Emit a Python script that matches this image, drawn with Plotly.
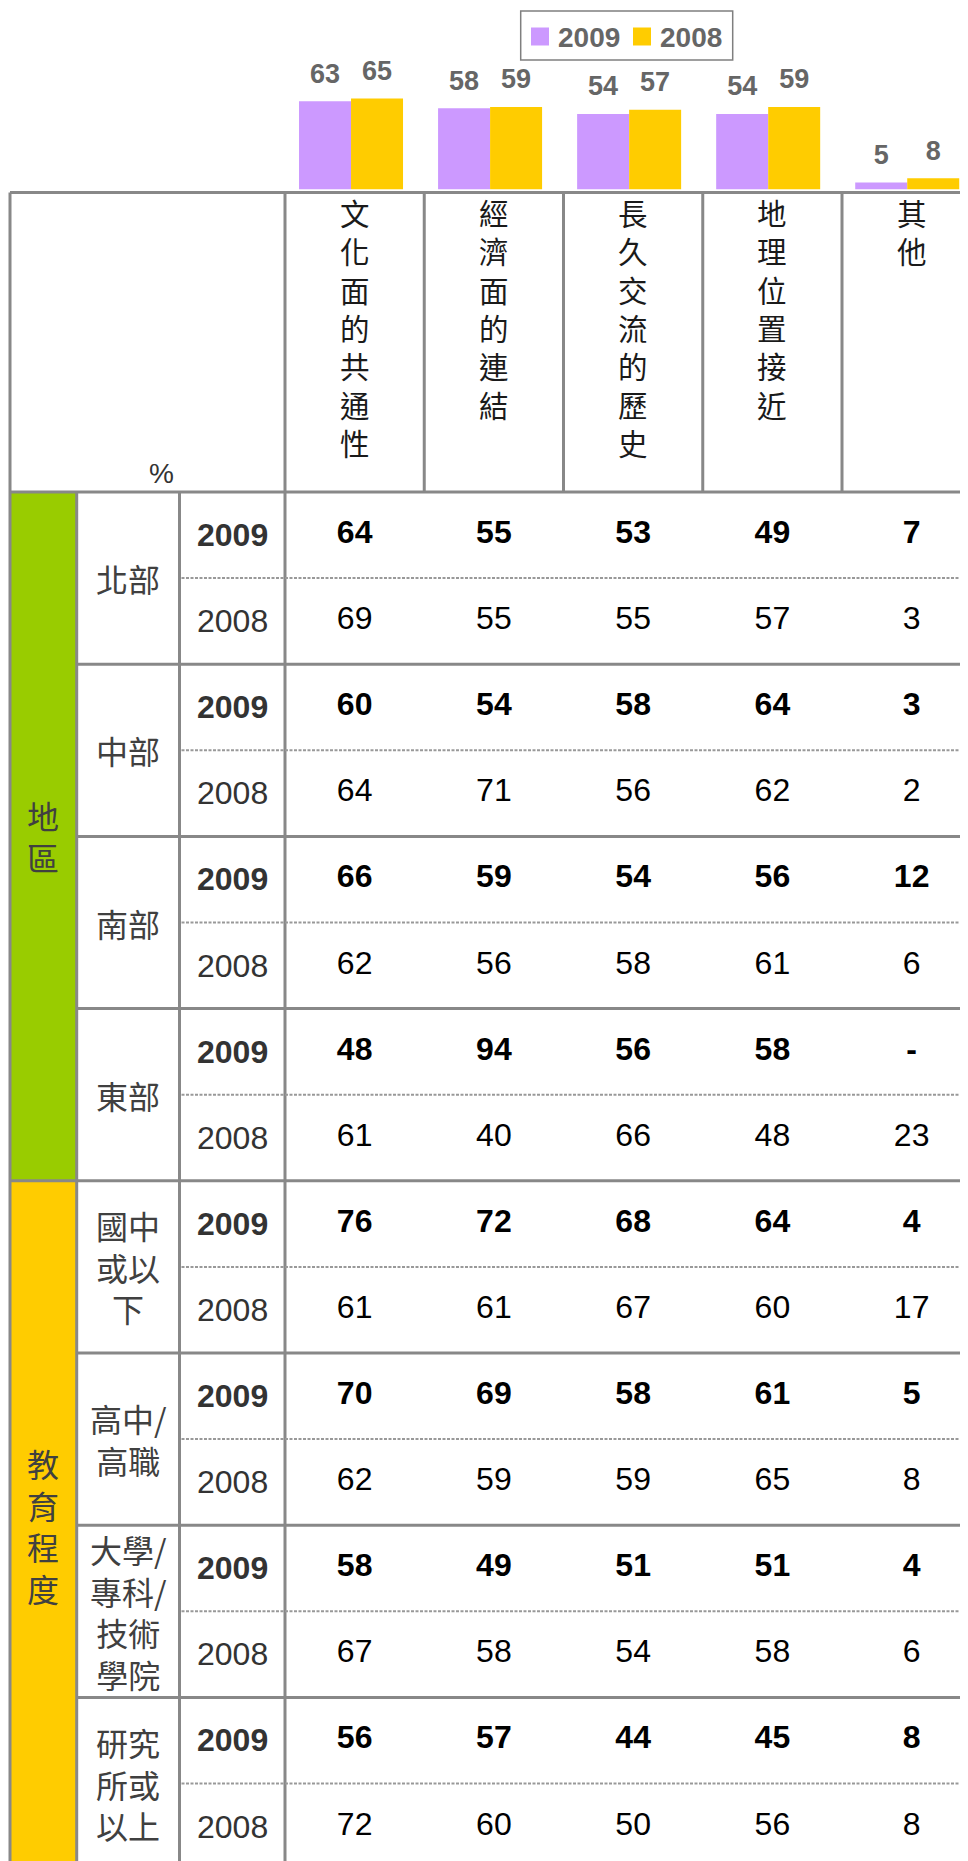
import plotly.graph_objects as go

# chart data
categories = ['文化面的共通性', '經濟面的連結', '長久交流的歷史', '地理位置接近', '其他']
series_names = ['2009', '2008']
total_2009 = [63, 58, 54, 54, 5]
total_2008 = [65, 59, 57, 59, 8]

group_labels = ['地區', '教育程度']
group_sizes = [4, 4]
row_labels = ['北部', '中部', '南部', '東部',
              '國中<br>或以<br>下', '高中/<br>高職', '大學/<br>專科/<br>技術<br>學院', '研究<br>所或<br>以上']
values_2009 = [
    [64, 55, 53, 49, 7],
    [60, 54, 58, 64, 3],
    [66, 59, 54, 56, 12],
    [48, 94, 56, 58, None],
    [76, 72, 68, 64, 4],
    [70, 69, 58, 61, 5],
    [58, 49, 51, 51, 4],
    [56, 57, 44, 45, 8],
]
values_2008 = [
    [69, 55, 55, 57, 3],
    [64, 71, 56, 62, 2],
    [62, 56, 58, 61, 6],
    [61, 40, 66, 48, 23],
    [61, 61, 67, 60, 17],
    [62, 59, 59, 65, 8],
    [67, 58, 54, 58, 6],
    [72, 60, 50, 56, 8],
]

colors = ['#CC99FF', '#FFCC00']
band_colors = ['#99CC00', '#FFCC00']

# geometry in page pixels (the figure div sits 8px in from the page edge)
W, H = 968, 1861
OFF = 8
table_top = 192.5
head_bottom = 492
group_h = 172.2
col_x0 = 285
col_w = 139.25
band_l, band_r, label_r = 10, 76.7, 179.5
px_per_unit = 1.40
label_lift = 25.5 / px_per_unit
bar_x0 = 281.5      # page x where the first category slot starts
bar_step = 139.05   # px per category
bar_base = 189.5    # page y of the bar baseline

NUM_FONT = 'Liberation Sans, Arial, sans-serif'
CJK_FONT = 'Noto Sans CJK TC, sans-serif'
LINE = '#888888'

fig = go.Figure()

# bars with value labels above
for name, vals, col in zip(series_names, [total_2009, total_2008], colors):
    fig.add_trace(go.Bar(x=categories, y=vals, name=name, marker=dict(color=col, line=dict(width=0)),
                         offsetgroup=name, hoverinfo='skip'))
    fig.add_trace(go.Scatter(x=categories, y=[v + label_lift for v in vals], mode='text',
                             text=[str(v) for v in vals], offsetgroup=name, cliponaxis=False,
                             textfont=dict(family=NUM_FONT, size=27, color='#666666', weight='bold'),
                             hoverinfo='skip'))

# table values, one text trace (2009 rows in bold)
def fmt(v):
    return '-' if v is None else str(v)

col_centers = [col_x0 + (i + 0.5) * col_w for i in range(len(categories))]
xs, ys, ts = [], [], []
for k, rows in enumerate([values_2009, values_2008]):
    for g, row in enumerate(rows):
        yc = head_bottom + g * group_h + (k + 0.5) * group_h / 2
        for c, v in enumerate(row):
            xs.append(col_centers[c])
            ys.append(yc)
            ts.append('<b>%s</b>' % fmt(v) if k == 0 else fmt(v))
fig.add_trace(go.Scatter(x=xs, y=ys, text=ts, mode='text', xaxis='x2', yaxis='y2',
                         textfont=dict(family=NUM_FONT, size=32, color='black'),
                         hoverinfo='skip'))

shapes = []
annotations = []

def line(x0, y0, x1, y1, width=3, dash='solid', color=LINE):
    shapes.append(dict(type='line', xref='x2', yref='y2', x0=x0, y0=y0, x1=x1, y1=y1,
                       line=dict(color=color, width=width, dash=dash)))

n_groups = sum(group_sizes)
table_bottom = head_bottom + n_groups * group_h
right = 1000

# colour bands on the left
start = 0
for lab, size, col in zip(group_labels, group_sizes, band_colors):
    y0 = head_bottom + start * group_h
    y1 = y0 + size * group_h
    shapes.append(dict(type='rect', xref='x2', yref='y2', x0=band_l, x1=band_r, y0=y0, y1=y1,
                       fillcolor=col, line=dict(width=0), layer='below'))
    annotations.append(dict(xref='x2', yref='y2', x=(band_l + band_r) / 2, y=(y0 + y1) / 2,
                            text='<br>'.join(lab), showarrow=False,
                            font=dict(family=CJK_FONT, size=32, color='#404040')))
    start += size

# grid lines
line(band_l, table_top, right, table_top)
line(band_l, head_bottom, right, head_bottom)
line(band_l, table_top, band_l, table_bottom)
line(band_r, head_bottom, band_r, table_bottom)
line(label_r, head_bottom, label_r, table_bottom)
line(col_x0, table_top, col_x0, table_bottom)
for i in range(1, len(categories)):
    x = col_x0 + i * col_w
    line(x, table_top, x, head_bottom)
for g in range(n_groups):
    y = head_bottom + g * group_h
    if g > 0:
        line(band_l if g == group_sizes[0] else band_r, y, right, y)
    line(label_r + 2, y + group_h / 2, right, y + group_h / 2, width=2, dash='3px,1.5px', color='#999999')

# header labels
for i, cat in enumerate(categories):
    annotations.append(dict(xref='x2', yref='y2', x=col_centers[i], y=188.5, yanchor='top',
                            text='<br>'.join(cat), showarrow=False,
                            font=dict(family=CJK_FONT, size=29.5, color='#1a1a1a')))
annotations.append(dict(xref='x2', yref='y2', x=161, y=473, text='%', showarrow=False,
                        font=dict(family=NUM_FONT, size=28, color='#333333')))

# row labels and years
for g, lab in enumerate(row_labels):
    y0 = head_bottom + g * group_h
    annotations.append(dict(xref='x2', yref='y2', x=(band_r + label_r) / 2, y=y0 + group_h / 2,
                            text=lab, showarrow=False,
                            font=dict(family=CJK_FONT, size=32, color='#404040')))
    for k, name in enumerate(series_names):
        annotations.append(dict(xref='x2', yref='y2', x=(label_r + col_x0) / 2,
                                y=y0 + (k + 0.5) * group_h / 2, text=name, showarrow=False,
                                font=dict(family=NUM_FONT, size=32, color='#333333',
                                          weight='bold' if k == 0 else 'normal')))

# legend box drawn by hand
shapes.append(dict(type='rect', xref='x2', yref='y2', x0=520.7, x1=732.7, y0=11, y1=60,
                   line=dict(color='#7f7f7f', width=1.5), fillcolor='white'))
for name, col, sx in zip(series_names, colors, [531, 633]):
    shapes.append(dict(type='rect', xref='x2', yref='y2', x0=sx, x1=sx + 18, y0=27.5, y1=45.5,
                       fillcolor=col, line=dict(width=0)))
    annotations.append(dict(xref='x2', yref='y2', x=sx + 25, y=37, xanchor='left', text=name,
                            showarrow=False,
                            font=dict(family=NUM_FONT, size=28, color='#666666', weight='bold')))

fx0 = bar_x0 - OFF
fbase = bar_base - OFF
fig.update_layout(
    width=W, height=H,
    margin=dict(l=0, r=0, t=0, b=0),
    paper_bgcolor='white', plot_bgcolor='rgba(0,0,0,0)',
    showlegend=False,
    barmode='group', bargap=0.252, bargroupgap=0,
    scattermode='group',
    xaxis=dict(domain=[fx0 / W, 1], range=[-0.5, -0.5 + (W - fx0) / bar_step],
               visible=False, fixedrange=True),
    yaxis=dict(domain=[1 - fbase / H, 1], range=[0, fbase / px_per_unit],
               visible=False, fixedrange=True),
    xaxis2=dict(domain=[0, 1], range=[OFF, W + OFF], visible=False, anchor='y2', fixedrange=True),
    yaxis2=dict(domain=[0, 1], range=[H + OFF, OFF], visible=False, anchor='x2', fixedrange=True),
    shapes=shapes,
    annotations=annotations,
)

fig.write_html("out.html")
